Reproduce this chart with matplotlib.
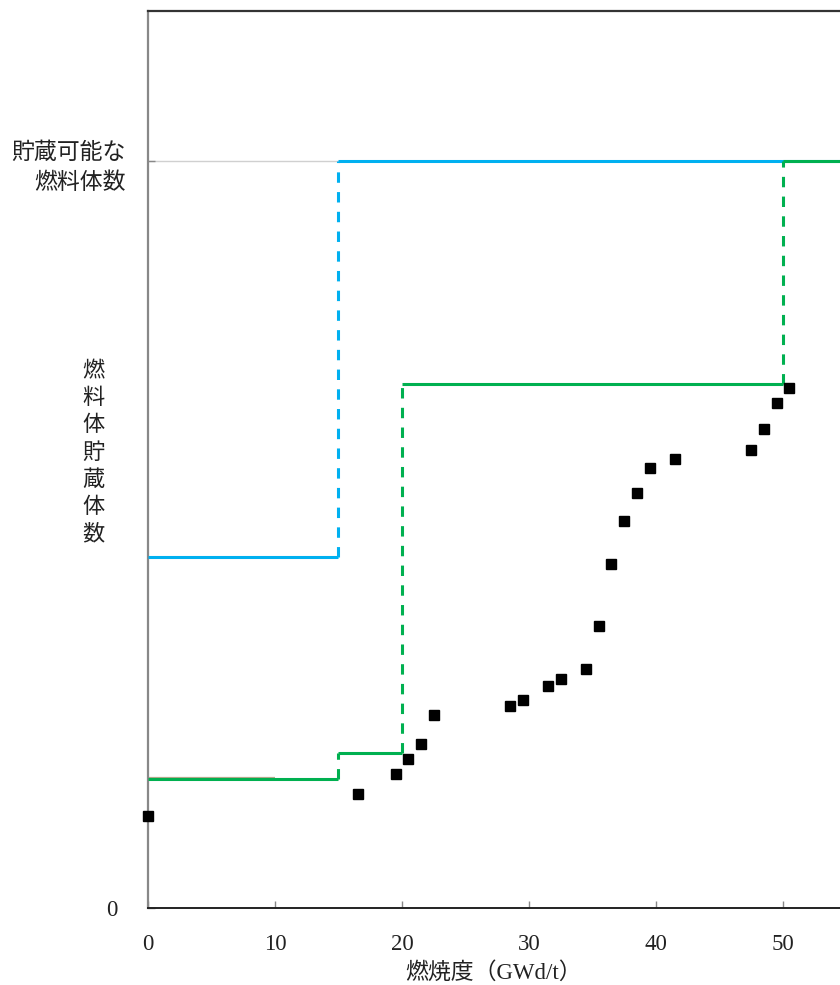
import matplotlib
matplotlib.use("Agg")
import matplotlib.pyplot as plt

plt.rcParams["font.family"] = ["Liberation Serif", "Noto Sans CJK JP"]
plt.rcParams["lines.scale_dashes"] = False

# 燃焼度 (GWd/t) と 燃料体貯蔵体数 (貯蔵可能数 = 100 とした相対値)
burnup = [0, 16.5, 19.5, 20.5, 21.5, 22.5, 28.5, 29.5, 31.5, 32.5, 34.5,
          35.5, 36.5, 37.5, 38.5, 39.5, 41.5, 47.5, 48.5, 49.5, 50.5]
stored = [12.3, 15.3, 17.9, 20.0, 21.9, 25.9, 27.1, 27.8, 29.7, 30.6, 32.0,
          37.7, 46.0, 51.8, 55.6, 58.9, 60.1, 61.3, 64.1, 67.6, 69.6]

capacity = 100
x_max = 54.5

blue_steps = [0, 15, x_max]
blue_levels = [47.0, capacity]

green_steps = [0, 15, 20, 50, x_max]
green_levels = [17.3, 20.8, 70.2, capacity]

old_x = [0, 10]
old_level = 17.45

blue = "#00b0f0"
green = "#00b050"
dash = (0, (7.5, 6.7))

fig = plt.figure(figsize=(8.4, 9.85), dpi=100)
ax = fig.add_axes([148 / 840, 77 / 985, 1 - 148 / 840, (908 - 11) / 985])

ax.hlines(capacity, 0, 15, color="#d0d0d0", lw=1, zorder=1)
ax.hlines(old_level, old_x[0], old_x[1], color="#b5a98c", lw=1.6, zorder=2)

for i, lv in enumerate(blue_levels):
    ax.hlines(lv, blue_steps[i], blue_steps[i + 1], color=blue, lw=2.2, zorder=3)
    if i > 0:
        ax.vlines(blue_steps[i], blue_levels[i - 1], lv, color=blue, lw=2.2,
                  linestyles=[dash], zorder=3)

for i, lv in enumerate(green_levels):
    ax.hlines(lv, green_steps[i], green_steps[i + 1], color=green, lw=2.2, zorder=4)
    if i > 0:
        ax.vlines(green_steps[i], green_levels[i - 1], lv, color=green, lw=2.2,
                  linestyles=[dash], zorder=4)

ax.plot(burnup, stored, "s", color="black", ms=7.2, clip_on=False, zorder=5)

ax.set_xlim(0, x_max)
ax.set_ylim(0, 120.1)

ax.spines["right"].set_visible(False)
ax.spines["left"].set_color("#888888")
ax.spines["left"].set_linewidth(1.6)
ax.spines["top"].set_color("#333333")
ax.spines["bottom"].set_color("#222222")
ax.spines["top"].set_linewidth(1.6)
ax.spines["bottom"].set_linewidth(1.4)

ax.set_xticks([0, 10, 20, 30, 40, 50])
ax.tick_params(axis="x", direction="in", length=5, width=1, color="#888888",
               pad=19, labelsize=16.5, labelcolor="#222222")

ax.set_yticks([0, capacity])
ax.set_yticklabels(["0", "貯蔵可能な\n燃料体数"])
ax.tick_params(axis="y", direction="in", length=5, width=1, color="#888888",
               labelcolor="#222222")
yt = ax.yaxis.get_major_ticks()
yt[0].set_pad(22)
yt[0].label1.set_fontsize(16.5)
yt[1].set_pad(16)
yt[1].label1.set_fontsize(16.5)
yt[1].label1.set_family(["Noto Sans CJK JP"])
yt[1].label1.set_multialignment("right")
yt[1].label1.set_linespacing(1.4)

ax.set_xlabel("燃焼度（GWd/t）", fontsize=16.5, color="#222222", labelpad=5)

fig.text(93 / 840, 1 - 452 / 985, "燃\n料\n体\n貯\n蔵\n体\n数", ha="center", va="center",
         fontsize=16, linespacing=1.23, color="#222222", family=["Noto Sans CJK JP"])

fig.savefig("out.png", dpi=100)
